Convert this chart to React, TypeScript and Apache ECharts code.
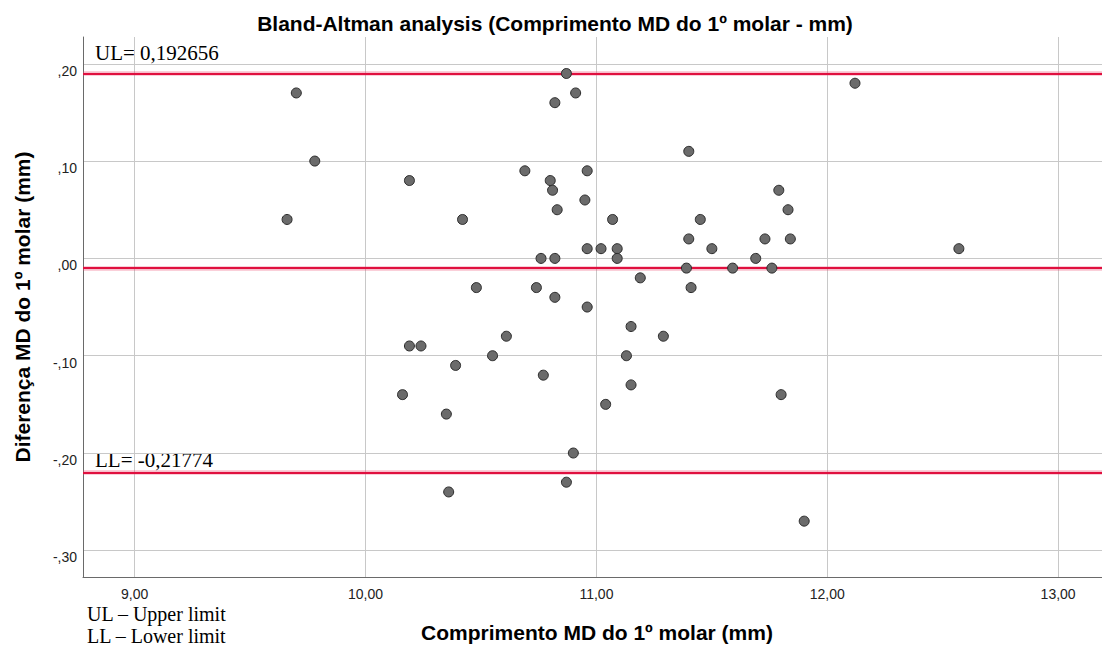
import React, { useEffect, useRef } from 'react';
import * as echarts from 'echarts';

// Mean of the two measurements (x) and their difference (y)
const meanMD: number[] = [
  9.66, 9.70, 9.78, 10.19, 10.16, 10.19, 10.24, 10.35, 10.36, 10.39,
  10.42, 10.48, 10.55, 10.61, 10.69, 10.74, 10.76, 10.77, 10.80, 10.81,
  10.82, 10.82, 10.82, 10.83, 10.87, 10.87, 10.90, 10.91, 10.95, 10.96,
  10.96, 10.96, 11.02, 11.04, 11.07, 11.09, 11.09, 11.13, 11.15, 11.15,
  11.19, 11.29, 11.39, 11.40, 11.40, 11.41, 11.45, 11.50, 11.59, 11.69,
  11.73, 11.76, 11.79, 11.80, 11.83, 11.84, 11.90, 12.12, 12.57,
];
const diffMD: number[] = [
  0.04, 0.17, 0.10, 0.08, -0.14, -0.09, -0.09, -0.16, -0.24, -0.11,
  0.04, -0.03, -0.10, -0.08, 0.09, -0.03, 0.00, -0.12, 0.08, 0.07,
  0.16, 0.00, -0.04, 0.05, 0.19, -0.23, -0.20, 0.17, 0.06, 0.09,
  0.01, -0.05, 0.01, -0.15, 0.04, 0.01, 0.00, -0.10, -0.07, -0.13,
  -0.02, -0.08, -0.01, 0.11, 0.02, -0.03, 0.04, 0.01, -0.01, 0.00,
  0.02, -0.01, 0.07, -0.14, 0.05, 0.02, -0.27, 0.18, 0.01,
];

const UL = 0.192656;
const LL = -0.21774;
const MEAN = (UL + LL) / 2;

const titleText = 'Bland-Altman analysis (Comprimento MD do 1º molar - mm)';
const xName = 'Comprimento MD do 1º molar (mm)';
const yName = 'Diferença MD do 1º molar (mm)';
const legendLines = ['UL – Upper limit', 'LL – Lower limit'];

const X_MIN = 8.776;
const X_MAX = 13.19;
const Y_MIN = -0.3274;
const Y_MAX = 0.2275;

const sans = "'Liberation Sans', Arial, sans-serif";
const serif = "'Liberation Serif', 'Times New Roman', serif";

const fmtX = (v: number) => v.toFixed(2).replace('.', ',');
const fmtY = (v: number) => {
  const a = Math.abs(v).toFixed(2).replace(/^0\./, ',');
  return (v < -1e-9 ? '-' : '') + a;
};
const fmtLimit = (v: number) => String(v).replace('.', ',');

export default function App() {
  const ref = useRef<HTMLDivElement>(null);
  useEffect(() => {
    if (!ref.current) return;
    const chart = echarts.init(ref.current, null, { renderer: 'svg' });
    const data = meanMD.map((x, i) => [x, diffMD[i]]);
    const halo = { color: 'rgba(236, 70, 110, 0.35)', width: 4.5, type: 'solid' };
    const core = { color: '#e0103f', width: 2, type: 'solid' };
    chart.setOption({
      animation: false,
      backgroundColor: '#ffffff',
      title: {
        text: titleText,
        left: 550,
        top: 8,
        textAlign: 'center',
        textStyle: { fontFamily: sans, fontSize: 21, fontWeight: 'bold', color: '#000' },
      },
      grid: { left: 83, top: 37, right: 0, bottom: 73, containLabel: false },
      xAxis: {
        type: 'value',
        min: X_MIN,
        max: X_MAX,
        name: xName,
        nameLocation: 'middle',
        nameGap: 45,
        nameTextStyle: { fontFamily: sans, fontSize: 21, fontWeight: 'bold', color: '#000', padding: [0, 0, 0, 9] },
        axisLine: { show: true, onZero: false, lineStyle: { color: '#6a6a6a', width: 1 } },
        axisTick: { show: false },
        axisLabel: {
          formatter: fmtX,
          margin: 10,
          fontFamily: sans,
          fontSize: 14,
          color: '#222',
          showMinLabel: false,
          showMaxLabel: false,
        },
        splitLine: { show: true, showMinLine: false, showMaxLine: false, lineStyle: { color: '#c8c8c8', width: 1 } },
      },
      yAxis: {
        type: 'value',
        min: Y_MIN,
        max: Y_MAX,
        name: yName,
        nameLocation: 'middle',
        nameGap: 50,
        nameTextStyle: { fontFamily: sans, fontSize: 21, fontWeight: 'bold', color: '#000' },
        axisLine: { show: true, onZero: false, lineStyle: { color: '#6a6a6a', width: 1 } },
        axisTick: { show: false },
        axisLabel: {
          formatter: fmtY,
          margin: 6,
          fontFamily: sans,
          fontSize: 14,
          color: '#222',
          verticalAlign: 'top',
          showMinLabel: false,
          showMaxLabel: false,
        },
        splitLine: { show: true, showMinLine: false, showMaxLine: false, lineStyle: { color: '#c8c8c8', width: 1 } },
      },
      series: [
        {
          type: 'scatter',
          data,
          symbol: 'circle',
          symbolSize: 10,
          itemStyle: { color: '#6b6b6b', borderColor: '#2a2a2a', borderWidth: 1, opacity: 1 },
          z: 3,
          markLine: {
            silent: true,
            symbol: ['none', 'none'],
            label: { show: false },
            z: 2,
            data: [
              { yAxis: UL, lineStyle: halo },
              { yAxis: MEAN, lineStyle: halo },
              { yAxis: LL, lineStyle: halo },
              { yAxis: UL, lineStyle: core },
              { yAxis: MEAN, lineStyle: core },
              { yAxis: LL, lineStyle: core },
            ],
          },
        },
      ],
      graphic: [
        {
          type: 'text',
          left: 95,
          top: 42,
          style: { text: 'UL= ' + fmtLimit(UL), fontFamily: serif, fontSize: 21, fill: '#000' },
        },
        {
          type: 'text',
          left: 95,
          top: 449,
          style: { text: 'LL= ' + fmtLimit(LL), fontFamily: serif, fontSize: 21, fill: '#000' },
        },
        {
          type: 'text',
          left: 87,
          top: 604,
          style: { text: legendLines[0], fontFamily: serif, fontSize: 20, lineHeight: 20, fill: '#000' },
        },
        {
          type: 'text',
          left: 87,
          top: 626,
          style: { text: legendLines[1], fontFamily: serif, fontSize: 20, lineHeight: 20, fill: '#000' },
        },
      ],
    });
    return () => chart.dispose();
  }, []);
  return (
    <div
      ref={ref}
      style={{ position: 'fixed', left: 0, top: 0, width: 1102, height: 650, background: '#fff' }}
    />
  );
}
